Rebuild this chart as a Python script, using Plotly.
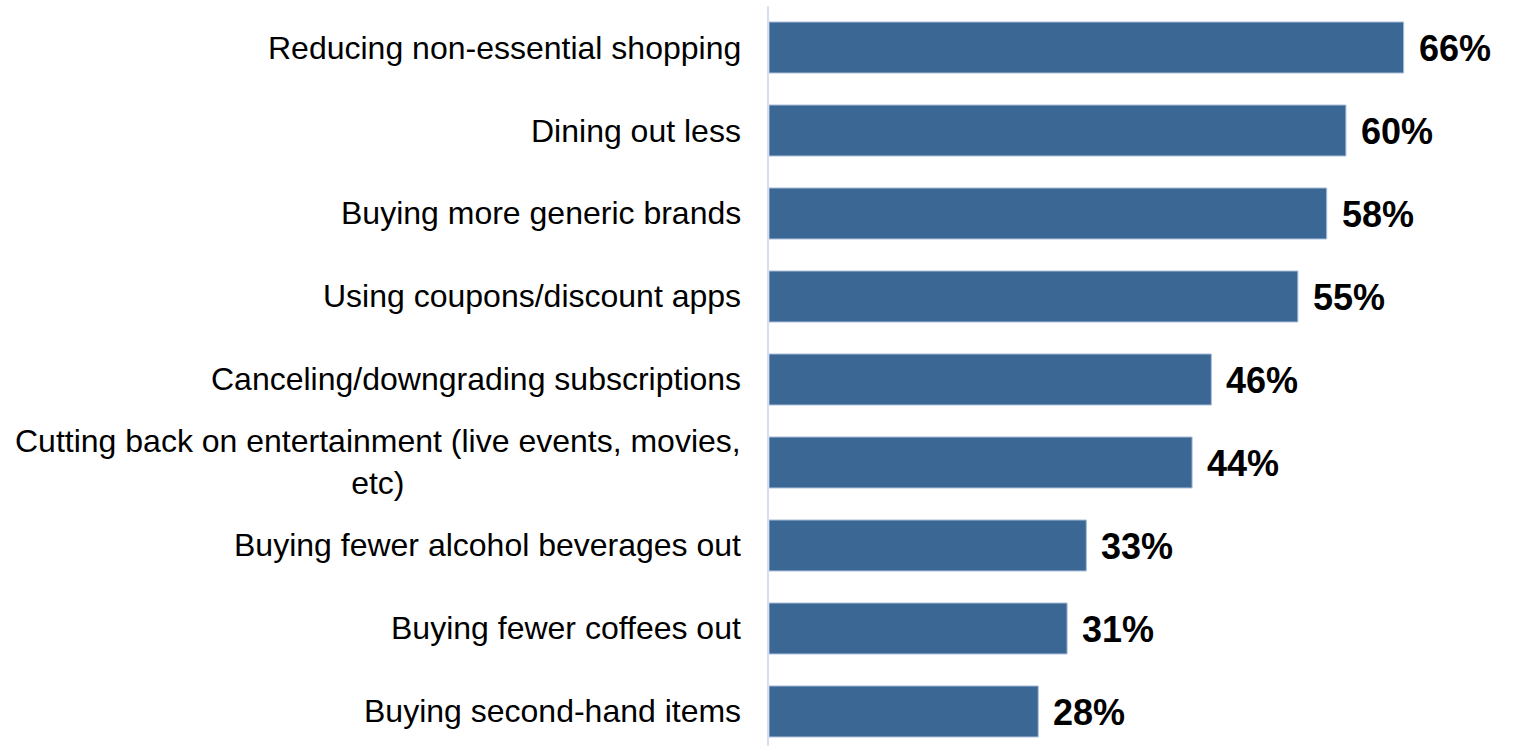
import plotly.graph_objects as go

# Categories listed bottom to top
categories = [
    "Buying second-hand items",
    "Buying fewer coffees out",
    "Buying fewer alcohol beverages out",
    "Cutting back on entertainment (live events, movies,<br>etc)",
    "Canceling/downgrading subscriptions",
    "Using coupons/discount apps",
    "Buying more generic brands",
    "Dining out less",
    "Reducing non-essential shopping",
]
values = [28, 31, 33, 44, 46, 55, 58, 60, 66]
value_labels = [f"{v}%" for v in values]

BAR_COLOR = "#3B6795"
FONT = "Arial, Liberation Sans, sans-serif"

fig = go.Figure()
fig.add_trace(go.Bar(
    x=values,
    y=categories,
    orientation="h",
    marker=dict(color=BAR_COLOR, line=dict(color="#A7BBD8", width=1)),
    hoverinfo="skip",
))

annotations = []
for cat, v, lab in zip(categories, values, value_labels):
    # value label just past the bar end
    annotations.append(dict(
        x=v, y=cat, xref="x", yref="y", text=lab, showarrow=False,
        xanchor="left", yanchor="middle", xshift=13, yshift=-1,
        font=dict(family=FONT, size=36, color="#000000", weight="bold"),
    ))
    # category label left of the axis, multi-line text centred
    annotations.append(dict(
        x=0, y=cat, xref="paper", yref="y", text=cat, showarrow=False,
        xanchor="right", yanchor="middle", xshift=-26, align="center",
        font=dict(family=FONT, size=32, color="#000000"),
    ))

fig.update_layout(
    width=1519, height=746,
    margin=dict(l=769, r=0, t=6, b=0),
    paper_bgcolor="white", plot_bgcolor="white",
    showlegend=False,
    bargap=0.386,
    annotations=annotations,
    xaxis=dict(range=[0, 78], visible=False, fixedrange=True),
    yaxis=dict(
        type="category", categoryorder="array", categoryarray=categories,
        range=[-0.416, 8.5],
        showticklabels=False, ticks="",
        showline=True, linecolor="#D5DFEF", linewidth=2,
        showgrid=False, zeroline=False, fixedrange=True,
    ),
)

fig.write_html("out.html", config={"displayModeBar": False})
